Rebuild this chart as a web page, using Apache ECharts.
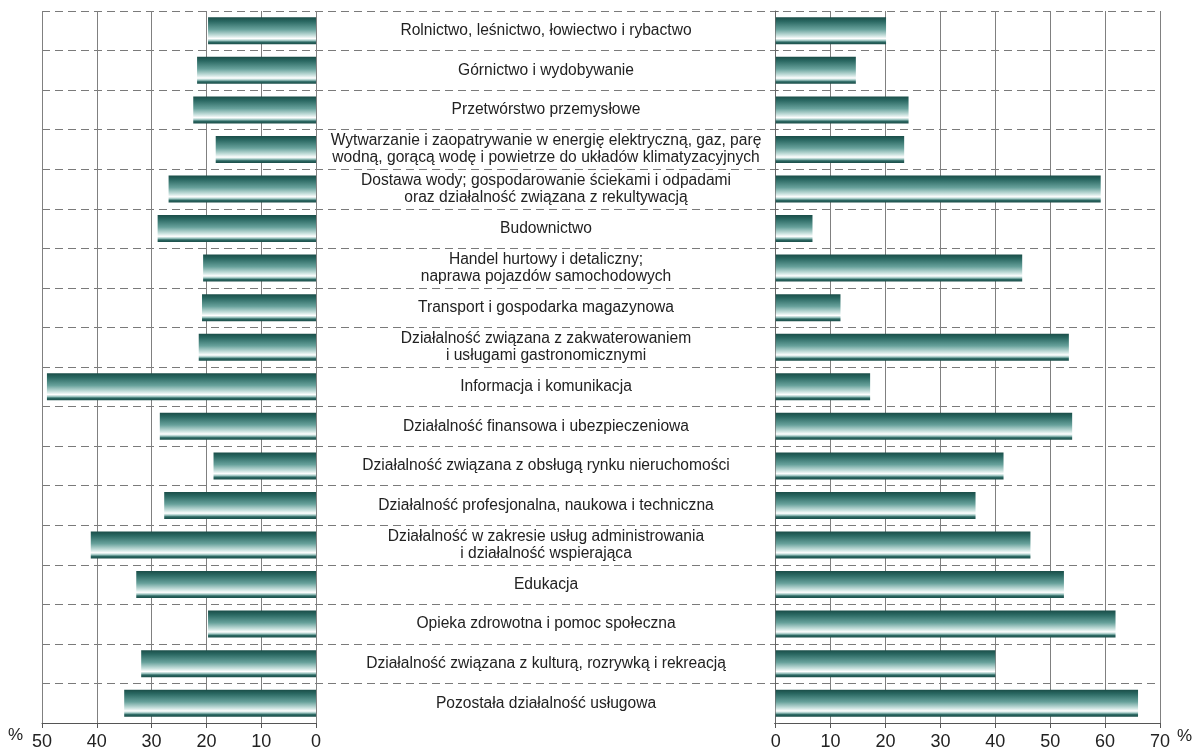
<!DOCTYPE html>
<html>
<head>
<meta charset="utf-8">
<script src="https://cdn.jsdelivr.net/npm/echarts@6/dist/echarts.min.js"></script>
<style>
    html, body { margin: 0; padding: 0; background: #fff; }
    #chart { width: 1200px; height: 751px; }
</style>
</head>
<body>
<div id="chart"></div>
<script>
var categories = [
    'Rolnictwo, leśnictwo, łowiectwo i rybactwo',
    'Górnictwo i wydobywanie',
    'Przetwórstwo przemysłowe',
    'Wytwarzanie i zaopatrywanie w energię elektryczną, gaz, parę\nwodną, gorącą wodę i powietrze do układów klimatyzacyjnych',
    'Dostawa wody; gospodarowanie ściekami i odpadami\noraz działalność związana z rekultywacją',
    'Budownictwo',
    'Handel hurtowy i detaliczny;\nnaprawa pojazdów samochodowych',
    'Transport i gospodarka magazynowa',
    'Działalność związana z zakwaterowaniem\ni usługami gastronomicznymi',
    'Informacja i komunikacja',
    'Działalność finansowa i ubezpieczeniowa',
    'Działalność związana z obsługą rynku nieruchomości',
    'Działalność profesjonalna, naukowa i techniczna',
    'Działalność w zakresie usług administrowania\ni działalność wspierająca',
    'Edukacja',
    'Opieka zdrowotna i pomoc społeczna',
    'Działalność związana z kulturą, rozrywką i rekreacją',
    'Pozostała działalność usługowa'
];

// left panel (axis 50 -> 0)
var leftValues = [19.7, 21.7, 22.4, 18.3, 26.9, 28.9, 20.6, 20.8, 21.4, 49.1, 28.5, 18.7, 27.7, 41.1, 32.8, 19.7, 31.9, 35.0];
// right panel (axis 0 -> 70)
var rightValues = [20.1, 14.6, 24.2, 23.4, 59.2, 6.7, 44.9, 11.8, 53.4, 17.2, 54.0, 41.5, 36.4, 46.4, 52.5, 61.9, 40.0, 66.0];

var leftMax = 50;
var rightMax = 70;

var chart = echarts.init(document.getElementById('chart'));

var barColor = new echarts.graphic.LinearGradient(0, 0, 0, 1, [
    { offset: 0, color: '#1a4d48' },
    { offset: 0.15, color: '#2a6862' },
    { offset: 0.45, color: '#67a19b' },
    { offset: 0.68, color: '#c9e1de' },
    { offset: 0.79, color: '#ffffff' },
    { offset: 0.86, color: '#9fc6c2' },
    { offset: 0.92, color: '#2c6863' },
    { offset: 1, color: '#1a4d48' }
]);

var gridLine = { show: true, lineStyle: { color: '#808080', width: 1 } };
var tickLabel = { fontSize: 18, color: '#222', fontFamily: 'Liberation Sans', margin: 10 };

var option = {
    animation: false,
    grid: [
        { left: 42, right: 884, top: 11, bottom: 28 },
        { left: 775.7, right: 40, top: 11, bottom: 28 },
        { left: 42, right: 40, top: 11, bottom: 28 }
    ],
    xAxis: [
        {
            gridIndex: 0, type: 'value', min: 0, max: leftMax, interval: 10, inverse: true,
            axisLine: { show: true, lineStyle: { color: '#555' } },
            axisTick: { show: true, length: 5, lineStyle: { color: '#555' } },
            axisLabel: tickLabel,
            splitLine: gridLine
        },
        {
            gridIndex: 1, type: 'value', min: 0, max: rightMax, interval: 10,
            axisLine: { show: true, lineStyle: { color: '#555' } },
            axisTick: { show: true, length: 5, lineStyle: { color: '#555' } },
            axisLabel: tickLabel,
            splitLine: gridLine
        },
        {
            gridIndex: 2, type: 'value', min: 0, max: 1, show: false
        }
    ],
    yAxis: [
        {
            gridIndex: 0, type: 'category', data: categories, inverse: true,
            axisLine: { show: false }, axisTick: { show: false },
            axisLabel: { show: false }, splitLine: { show: false }
        },
        {
            gridIndex: 1, type: 'category', data: categories, inverse: true, position: 'right',
            axisLine: { show: true, lineStyle: { color: '#666' } },
            axisTick: { show: true, length: 3, lineStyle: { color: '#666' } },
            axisLabel: { show: false }, splitLine: { show: false }
        },
        {
            gridIndex: 2, type: 'category', data: categories, inverse: true,
            axisLine: { show: false }, axisTick: { show: false },
            splitLine: { show: true, lineStyle: { color: '#7a7a7a', width: 1, type: [8, 5] } },
            axisLabel: {
                show: true,
                align: 'center',
                margin: -504,
                fontSize: 15.6,
                lineHeight: 17,
                color: '#222',
                fontFamily: 'Liberation Sans'
            }
        }
    ],
    graphic: [
        // no dashed line under the last row in the label column
        { type: 'rect', left: 317, top: 719, z: 100, shape: { width: 457, height: 8 }, style: { fill: '#fff' } },
        { type: 'text', left: 8, top: 727, style: { text: '%', fontSize: 17, fill: '#222', fontFamily: 'Liberation Sans' } },
        { type: 'text', left: 1177, top: 728, style: { text: '%', fontSize: 17, fill: '#222', fontFamily: 'Liberation Sans' } }
    ],
    series: [
        {
            type: 'bar', xAxisIndex: 0, yAxisIndex: 0,
            data: leftValues, barWidth: 27,
            itemStyle: { color: barColor }
        },
        {
            type: 'bar', xAxisIndex: 1, yAxisIndex: 1,
            data: rightValues, barWidth: 27,
            itemStyle: { color: barColor }
        }
    ]
};

chart.setOption(option, true);
</script>
</body>
</html>
